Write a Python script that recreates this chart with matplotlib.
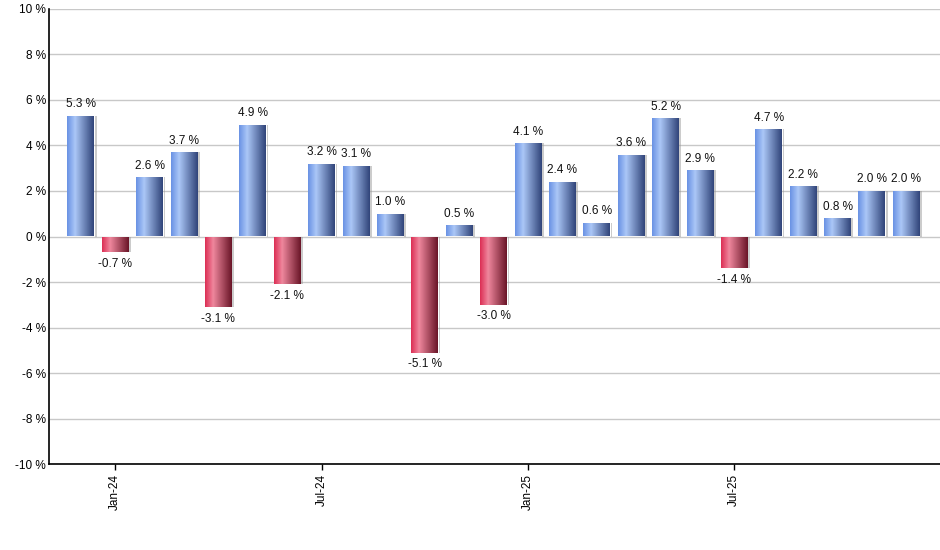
import numpy as np
import matplotlib
matplotlib.use("Agg")
from matplotlib import pyplot as plt
from matplotlib.colors import LinearSegmentedColormap

months = ["Dec-23", "Jan-24", "Feb-24", "Mar-24", "Apr-24", "May-24", "Jun-24",
          "Jul-24", "Aug-24", "Sep-24", "Oct-24", "Nov-24", "Dec-24", "Jan-25",
          "Feb-25", "Mar-25", "Apr-25", "May-25", "Jun-25", "Jul-25", "Aug-25",
          "Sep-25", "Oct-25", "Nov-25", "Dec-25"]
returns = [5.3, -0.7, 2.6, 3.7, -3.1, 4.9, -2.1, 3.2, 3.1, 1.0, -5.1, 0.5, -3.0,
           4.1, 2.4, 0.6, 3.6, 5.2, 2.9, -1.4, 4.7, 2.2, 0.8, 2.0, 2.0]
tick_labels = ["Jan-24", "Jul-24", "Jan-25", "Jul-25"]
yticks = [-10, -8, -6, -4, -2, 0, 2, 4, 6, 8, 10]

plt.rcParams['font.family'] = ['Liberation Sans', 'DejaVu Sans']

blue = LinearSegmentedColormap.from_list(
    "blue", [(0, "#6a92e4"), (0.3, "#abc7f7"), (1.0, "#31457a")])
red = LinearSegmentedColormap.from_list(
    "red", [(0, "#dc2f55"), (0.3, "#ef879d"), (1.0, "#6a1628")])

fig = plt.figure(figsize=(9.4, 5.5), dpi=100)
ax = fig.add_axes([0.052, 0.156, 0.948, 0.828])

x = np.arange(len(returns))
bars = ax.bar(x, returns, width=0.78, color="none", edgecolor="none", zorder=3)

grad = np.linspace(0, 1, 64).reshape(1, -1)
for b, v in zip(bars, returns):
    x0, y0 = b.get_x(), b.get_y()
    w, h = b.get_width(), b.get_height()
    # thin shadow on right side
    ax.bar(x0 + w + 0.015, v, width=0.05, align="edge", color="#9a9a9a",
           alpha=0.5, zorder=2)
    im = ax.imshow(grad, cmap=blue if v >= 0 else red, aspect="auto",
                   extent=(x0, x0 + w, min(0, v), max(0, v)), zorder=3,
                   interpolation="bilinear")
    im.set_clip_path(b)
    if v >= 0:
        ax.annotate(f"{v:.1f} %", (x0 + w / 2, v), xytext=(0, 4),
                    textcoords="offset points", ha="center", va="bottom",
                    fontsize=8.5, color="#111111")
    else:
        ax.annotate(f"{v:.1f} %", (x0 + w / 2, v), xytext=(0, -4),
                    textcoords="offset points", ha="center", va="top",
                    fontsize=8.5, color="#111111")

ax.set_xlim(-0.93, 24.98)
ax.set_ylim(-10, 10)
ax.set_yticks(yticks)
ax.set_yticklabels([f"{t} %" for t in yticks], fontsize=8.5)
ax.set_xticks([months.index(t) for t in tick_labels])
ax.set_xticklabels(tick_labels, rotation=90, fontsize=8.5)
ax.tick_params(axis="y", length=0, pad=2)
ax.tick_params(axis="x", length=4, width=1, pad=3)
ax.grid(axis="y", color="#c8c8c8", lw=1, zorder=0)
ax.set_axisbelow(True)
for s in ["top", "right"]:
    ax.spines[s].set_visible(False)
ax.spines["left"].set_linewidth(1.2)
ax.spines["bottom"].set_linewidth(1.2)

fig.savefig("out.png", dpi=100)
